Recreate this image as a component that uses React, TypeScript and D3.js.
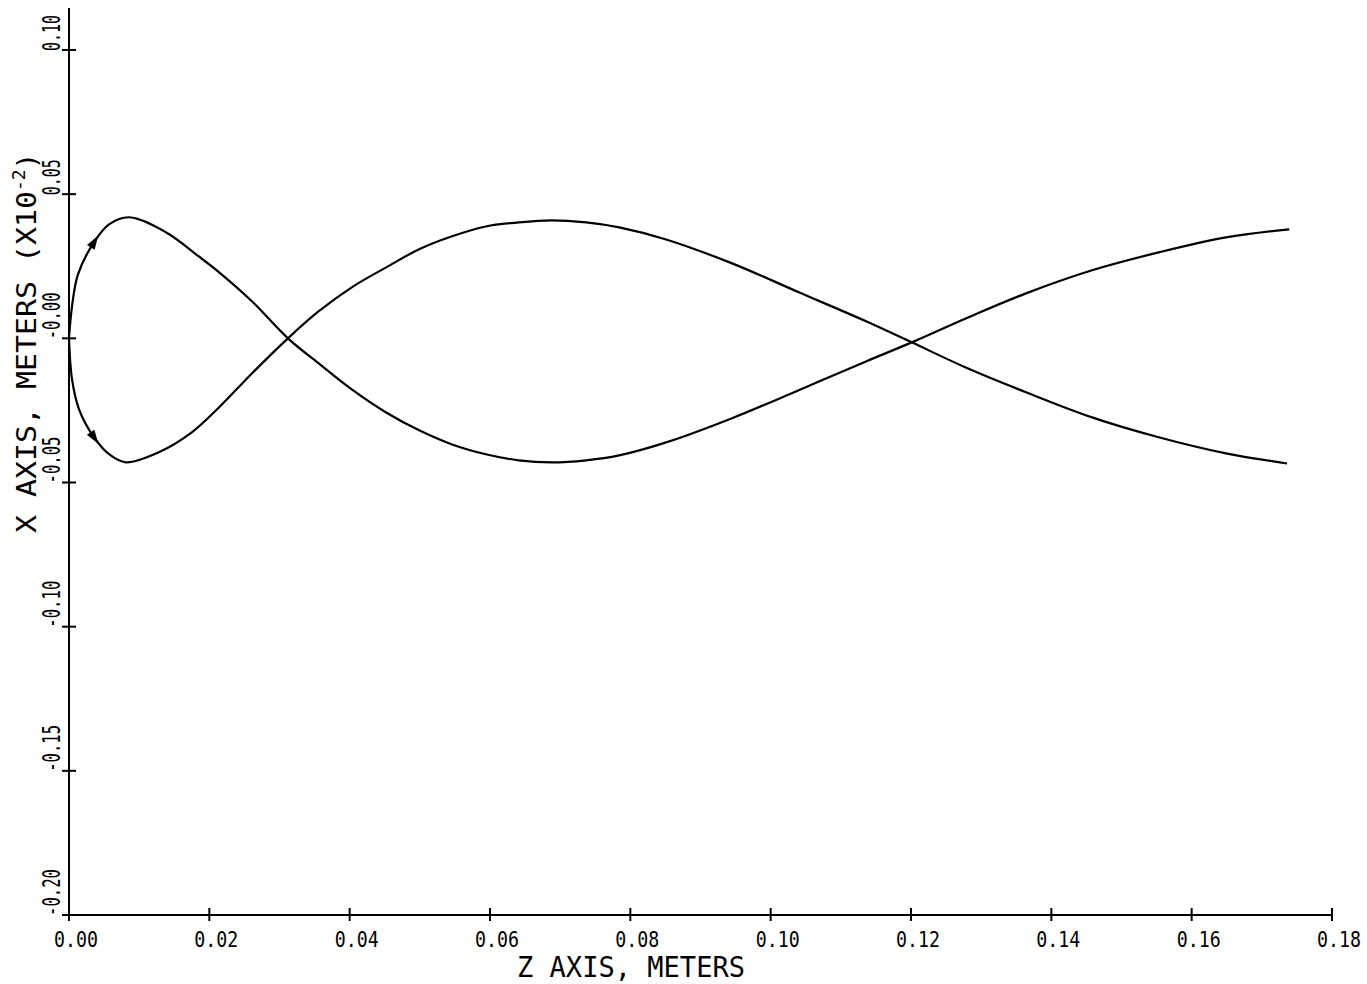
import React from "react";
import * as d3 from "d3";

// Axis ticks (Z in meters along the bottom, X in meters up the side)
const zTicks = [0, 0.02, 0.04, 0.06, 0.08, 0.1, 0.12, 0.14, 0.16, 0.18];
const zTickLabels = ["0.00", "0.02", "0.04", "0.06", "0.08", "0.10", "0.12", "0.14", "0.16", "0.18"];
const xTicks = [0.1, 0.05, 0, -0.05, -0.1, -0.15, -0.2];
const xTickLabels = ["0.10", "0.05", "-0.00", "-0.05", "-0.10", "-0.15", "-0.20"];

// Trajectory leaving the origin upward: [z, x]
const trajUp: [number, number][] = [
  [0, 0], [0.00043, 0.0111], [0.00128, 0.0222], [0.00356, 0.0333], [0.0057, 0.0395],
  [0.00855, 0.042], [0.0138, 0.0368], [0.0185, 0.0284], [0.0214, 0.0229], [0.0261, 0.0128],
  [0.0312, 0.0], [0.0356, -0.0087], [0.0403, -0.0177], [0.0452, -0.0257], [0.0499, -0.0319],
  [0.0546, -0.0368], [0.0594, -0.0402], [0.0641, -0.0423], [0.0688, -0.043], [0.0737, -0.0423],
  [0.0784, -0.0406], [0.0851, -0.0361], [0.0945, -0.0277], [0.104, -0.018], [0.1136, -0.008],
  [0.1201, -0.0014], [0.1278, 0.0069], [0.1364, 0.0156], [0.1458, 0.0236], [0.1553, 0.0298],
  [0.1649, 0.035], [0.1739, 0.0378],
];

// Trajectory leaving the origin downward: [z, x]
const trajDown: [number, number][] = [
  [0, 0], [0.00043, -0.0142], [0.00143, -0.0246], [0.00356, -0.0343], [0.0057, -0.0402],
  [0.0081, -0.043], [0.0128, -0.0395], [0.0175, -0.0326], [0.0214, -0.0239], [0.0261, -0.0121],
  [0.0312, 0.0], [0.0356, 0.0094], [0.0403, 0.0177], [0.0452, 0.0246], [0.0499, 0.0309],
  [0.0546, 0.0354], [0.0594, 0.0388], [0.0641, 0.0402], [0.0688, 0.0409], [0.0737, 0.0402],
  [0.0784, 0.0385], [0.0851, 0.0343], [0.0945, 0.026], [0.104, 0.016], [0.1136, 0.0059],
  [0.1201, -0.0014], [0.1278, -0.0101], [0.1364, -0.0187], [0.1458, -0.0274], [0.1553, -0.0343],
  [0.1649, -0.0399], [0.1736, -0.0434],
];

// Index of the point on each trajectory that carries a direction arrow
const arrowIndex = 3;

const W = 1367;
const H = 984;
const FONT = "'DejaVu Sans Mono', 'Liberation Mono', monospace";
const MONO_ADVANCE = 0.602; // glyph advance of the monospace face, in em

export default function App() {
  const z = d3.scaleLinear().domain([0, 0.18]).range([69, 1332]);
  const x = d3.scaleLinear().domain([-0.2, 0.1]).range([915, 50]);

  const line = d3
    .line<[number, number]>()
    .x((d) => z(d[0]))
    .y((d) => x(d[1]))
    .curve(d3.curveCatmullRom.alpha(0.5));

  const axisX = z(0);
  const axisY = x(-0.2);

  // Filled triangle pointing along the direction of travel at point i
  const arrowHead = (pts: [number, number][], i: number) => {
    const p = [z(pts[i][0]), x(pts[i][1])];
    const a = [z(pts[i - 1][0]), x(pts[i - 1][1])];
    const b = [z(pts[i + 1][0]), x(pts[i + 1][1])];
    const dx = b[0] - a[0];
    const dy = b[1] - a[1];
    const len = Math.hypot(dx, dy);
    const ux = dx / len;
    const uy = dy / len;
    const nx = -uy;
    const ny = ux;
    const tip = [p[0] + ux * 8, p[1] + uy * 8];
    const b1 = [p[0] - ux * 6 + nx * 4.5, p[1] - uy * 6 + ny * 4.5];
    const b2 = [p[0] - ux * 6 - nx * 4.5, p[1] - uy * 6 - ny * 4.5];
    return `M${tip[0]},${tip[1]}L${b1[0]},${b1[1]}L${b2[0]},${b2[1]}Z`;
  };

  const yLabelSize = 25;

  return (
    <svg
      width={W}
      height={H}
      style={{ position: "absolute", left: 0, top: 0, background: "#fff" }}
    >
      <rect x={0} y={0} width={W} height={H} fill="#fff" />

      {/* axes */}
      <line x1={axisX} y1={8} x2={axisX} y2={axisY} stroke="#000" strokeWidth={2} />
      <line x1={axisX} y1={axisY} x2={z(0.18)} y2={axisY} stroke="#000" strokeWidth={2} />

      {/* Z ticks and labels */}
      {zTicks.map((t, i) => (
        <g key={`zt${i}`}>
          <line x1={z(t)} y1={axisY - 7} x2={z(t)} y2={axisY + 6} stroke="#000" strokeWidth={2} />
          <text
            x={z(t) + 7}
            y={axisY + 32}
            textAnchor="middle"
            fontFamily={FONT}
            fontSize={21}
            textLength={44}
            lengthAdjust="spacingAndGlyphs"
            fill="#000"
          >
            {zTickLabels[i]}
          </text>
        </g>
      ))}

      {/* X ticks and labels (narrowed plotter-style glyphs) */}
      {xTicks.map((t, i) => {
        const label = xTickLabels[i];
        const target = label.length === 4 ? 36 : 47;
        const sx = target / (label.length * MONO_ADVANCE * yLabelSize);
        return (
          <g key={`xt${i}`}>
            <line x1={axisX - 7} y1={x(t)} x2={axisX + 7} y2={x(t)} stroke="#000" strokeWidth={2} />
            <text
              transform={`translate(${axisX - 9},${x(t) + 1}) rotate(-90) scale(${sx},1)`}
              textAnchor="start"
              fontFamily={FONT}
              fontSize={yLabelSize}
              fill="#000"
            >
              {label}
            </text>
          </g>
        );
      })}

      {/* axis titles */}
      <text
        x={631}
        y={977}
        textAnchor="middle"
        fontFamily={FONT}
        fontSize={29}
        textLength={228}
        lengthAdjust="spacingAndGlyphs"
        fill="#000"
      >
        Z AXIS, METERS
      </text>
      <text
        transform={`translate(36,533) rotate(-90)`}
        textAnchor="start"
        fontFamily={FONT}
        fontSize={27}
        fill="#000"
      >
        <tspan textLength={342} lengthAdjust="spacingAndGlyphs">X AXIS, METERS (X10</tspan>
        <tspan fontSize={18} dy={-11}>-2</tspan>
        <tspan dy={11}>)</tspan>
      </text>

      {/* trajectories */}
      <path d={line(trajUp) ?? ""} fill="none" stroke="#000" strokeWidth={2.2} />
      <path d={line(trajDown) ?? ""} fill="none" stroke="#000" strokeWidth={2.2} />
      <path d={arrowHead(trajUp, arrowIndex)} fill="#000" />
      <path d={arrowHead(trajDown, arrowIndex)} fill="#000" />
    </svg>
  );
}
